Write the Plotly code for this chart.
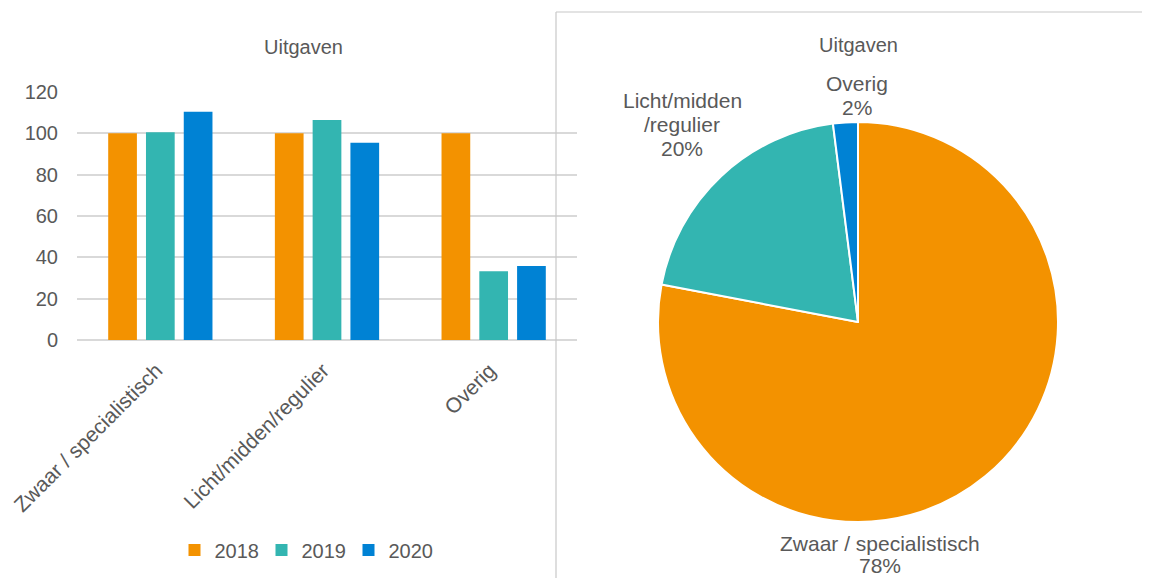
import plotly.graph_objects as go

# Data
categories = ["Zwaar / specialistisch", "Licht/midden/regulier", "Overig"]
years = ["2018", "2019", "2020"]
values_2018 = [100, 100, 100]
values_2019 = [100.5, 106.5, 33.3]
values_2020 = [110.5, 95.5, 35.8]

pie_labels = ["Zwaar / specialistisch", "Licht/midden/regulier", "Overig"]
pie_label_lines = [["Zwaar / specialistisch"], ["Licht/midden", "/regulier"], ["Overig"]]
pie_values = [78, 20, 2]

ORANGE = "#F39200"
TEAL = "#33B5B1"
BLUE = "#0082D4"
TEXT = "#595959"
GRID = "#D9D9D9"
FONT = "Liberation Sans, Arial, sans-serif"

W, H = 1150, 578
OFF = 8  # page body margin


def px(x):
    return (x - OFF) / W


def py(y):
    return 1 - (y - OFF) / H


fig = go.Figure()

for name, vals, color in zip(years, [values_2018, values_2019, values_2020], [ORANGE, TEAL, BLUE]):
    fig.add_trace(go.Bar(
        x=categories, y=vals, name=name, marker_color=color,
        marker_line_width=0, xaxis="x", yaxis="y",
    ))

fig.add_trace(go.Pie(
    labels=pie_labels, values=pie_values,
    marker=dict(colors=[ORANGE, TEAL, BLUE], line=dict(color="white", width=2)),
    sort=False, direction="clockwise", rotation=0,
    textinfo="none", showlegend=False,
    domain=dict(x=[px(658), px(1058)], y=[py(522), py(122)]),
))

# pie labels placed like the reference (Excel-style best fit), one line at a time
total = sum(pie_values)
label_pos = [(880, 543), (682, 100), (857, 83)]
pitch = [22, 24.5, 24.5]
for lines, v, (lx, ly), step in zip(pie_label_lines, pie_values, label_pos, pitch):
    for i, line in enumerate(lines + [f"{round(100 * v / total)}%"]):
        fig.add_annotation(
            x=px(lx), y=py(ly + i * step), xref="paper", yref="paper",
            text=line, showarrow=False,
            font=dict(size=21, color=TEXT, family=FONT),
            xanchor="center", yanchor="middle",
        )

# titles
for tx, ty in [(303, 47), (858, 45)]:
    fig.add_annotation(
        x=px(tx), y=py(ty), xref="paper", yref="paper",
        text="Uitgaven", showarrow=False,
        font=dict(size=20, color=TEXT, family=FONT),
        xanchor="center", yanchor="middle",
    )

# frame of the pie chart
fig.add_shape(type="line", xref="paper", yref="paper",
              x0=px(556), x1=px(556), y0=-0.05, y1=py(12),
              line=dict(color="#C8C8C8", width=1.2))
fig.add_shape(type="line", xref="paper", yref="paper",
              x0=px(556), x1=1, y0=py(12), y1=py(12),
              line=dict(color="#C8C8C8", width=1.2))

fig.update_layout(
    width=W, height=H,
    margin=dict(l=0, r=0, t=0, b=0, autoexpand=False),
    paper_bgcolor="white", plot_bgcolor="white",
    font=dict(family=FONT, size=20, color=TEXT),
    barmode="group", bargap=0.32, bargroupgap=0.24,
    xaxis=dict(
        domain=[px(77), px(577)], anchor="y", automargin=False,
        tickangle=-45, showgrid=False, showline=False,
        ticks="outside", ticklen=9, tickcolor="rgba(0,0,0,0)",
        tickfont=dict(size=21, color=TEXT), ticklabelshift=-4,
    ),
    yaxis=dict(
        domain=[py(340), py(92)], anchor="x", automargin=False,
        range=[0, 120], dtick=20, showgrid=True, gridcolor=GRID, gridwidth=1.5,
        zeroline=True, zerolinecolor=GRID, zerolinewidth=1.5,
        tickfont=dict(size=20, color=TEXT), ticklen=0, ticks="",
        ticklabelstandoff=18,
    ),
    legend=dict(
        orientation="h", x=px(305), y=py(550),
        xanchor="center", yanchor="middle",
        font=dict(size=20, color=TEXT), itemwidth=30, traceorder="normal",
        entrywidth=42,
    ),
)

fig.write_html("out.html")
